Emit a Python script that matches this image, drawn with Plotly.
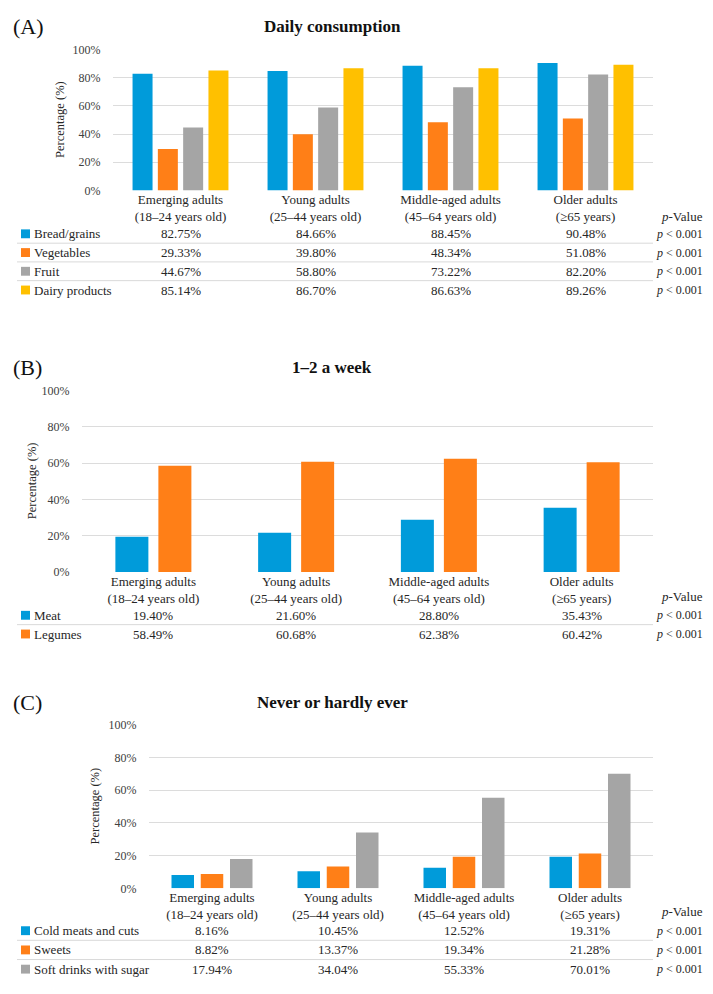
import plotly.graph_objects as go

# page is rendered with the default 8px body margin, so the figure is shrunk
# to avoid scrollbars and all layout numbers below are page pixels
PAGE_W, PAGE_H = 713, 994
OFF = 8
W, H = PAGE_W - 2 * OFF, PAGE_H - 2 * OFF

groups = ["Emerging adults<br>(18–24 years old)", "Young adults<br>(25–44 years old)",
          "Middle-aged adults<br>(45–64 years old)", "Older adults<br>(≥65 years)"]

# (A) Daily consumption
a_names = ["Bread/grains", "Vegetables", "Fruit", "Dairy products"]
bread = [82.75, 84.66, 88.45, 90.48]
vegetables = [29.33, 39.80, 48.34, 51.08]
fruit = [44.67, 58.80, 73.22, 82.20]
dairy = [85.14, 86.70, 86.63, 89.26]

# (B) 1-2 a week
b_names = ["Meat", "Legumes"]
meat = [19.40, 21.60, 28.80, 35.43]
legumes = [58.49, 60.68, 62.38, 60.42]

# (C) Never or hardly ever
c_names = ["Cold meats and cuts", "Sweets", "Soft drinks with sugar"]
cold_meats = [8.16, 10.45, 12.52, 19.31]
sweets = [8.82, 13.37, 19.34, 21.28]
soft_drinks = [17.94, 34.04, 55.33, 70.01]

p_text = "<i>p</i> &lt; 0.001"
yticks = [0, 20, 40, 60, 80, 100]
ytick_text = ["0%", "20%", "40%", "60%", "80%", "100%"]

BLUE = "#009BDA"
ORANGE = "#FF7F17"
GRAY = "#A5A5A5"
YELLOW = "#FFC000"
FONT = "Liberation Serif"


def px(x):
    return (x - OFF) / W


def py(y):
    return 1 - (y - OFF) / H


panels = [
    dict(tag="(A)", title="Daily consumption", names=a_names,
         series=[bread, vegetables, fruit, dairy], colors=[BLUE, ORANGE, GRAY, YELLOW],
         plot=(113, 653, 43, 186), head_y=20, ytitle_x=60, pval_y=212,
         rows=[230, 249, 268, 287], slot=25.3, bar=20),
    dict(tag="(B)", title="1–2 a week", names=b_names,
         series=[meat, legumes], colors=[BLUE, ORANGE],
         plot=(82, 653, 389, 573), head_y=366, ytitle_x=32, pval_y=598,
         rows=[617, 636], slot=43, bar=33),
    dict(tag="(C)", title="Never or hardly ever", names=c_names,
         series=[cold_meats, sweets, soft_drinks], colors=[BLUE, ORANGE, GRAY],
         plot=(149, 653, 728, 894), head_y=705, ytitle_x=95, pval_y=918,
         rows=[937, 956.5, 976], slot=29.25, bar=22.5),
]

fig = go.Figure()
annotations = []
shapes = []

for k, p in enumerate(panels, start=1):
    x0, x1, y0, y1 = p["plot"]
    cat_w = (x1 - x0) / len(groups)
    n = len(p["series"])
    s = p["slot"] / cat_w
    w = p["bar"] / cat_w
    xa = "x" if k == 1 else f"x{k}"
    ya = "y" if k == 1 else f"y{k}"
    for i, (name, vals, col) in enumerate(zip(p["names"], p["series"], p["colors"])):
        fig.add_trace(go.Bar(
            x=groups, y=vals, name=name, marker_color=col, marker_line_width=0,
            width=w, offset=-n * s / 2 + i * s + (s - w) / 2,
            xaxis=xa, yaxis=ya, showlegend=False))

    sfx = "" if k == 1 else str(k)
    fig.layout["xaxis" + sfx] = dict(
        domain=[px(x0), px(x1)], anchor=ya, showgrid=False, zeroline=False,
        showline=False, ticks="", tickfont=dict(family=FONT, size=13, color="#262626"),
        categoryorder="array", categoryarray=groups)
    fig.layout["yaxis" + sfx] = dict(
        domain=[py(y1), py(y0)], anchor=xa, range=[0, 100], tickmode="array",
        tickvals=yticks, ticktext=ytick_text, showgrid=True, gridcolor="#DCDCDC",
        gridwidth=1, zeroline=False, showline=False, ticks="outside", ticklen=9,
        tickcolor="rgba(0,0,0,0)", tickfont=dict(family=FONT, size=12, color="#404040"))

    # panel tag and title
    annotations.append(dict(text=p["tag"], x=px(11), y=py(p["head_y"]), xref="paper", yref="paper",
                            xanchor="left", yanchor="middle", showarrow=False,
                            font=dict(family=FONT, size=22, color="#111")))
    annotations.append(dict(text="<b>" + p["title"] + "</b>", x=px(332), y=py(p["head_y"]),
                            xref="paper", yref="paper", xanchor="center", yanchor="middle",
                            showarrow=False, font=dict(family=FONT, size=17, color="#111")))
    # y axis title
    annotations.append(dict(text="Percentage (%)", x=px(p["ytitle_x"]), y=py((y0 + y1) / 2),
                            xref="paper", yref="paper", textangle=-90, showarrow=False,
                            xanchor="center", yanchor="middle",
                            font=dict(family=FONT, size=12.5, color="#262626")))
    # p-value header
    annotations.append(dict(text="<i>p</i>-Value", x=px(682), y=py(p["pval_y"]),
                            xref="paper", yref="paper", xanchor="center", yanchor="middle",
                            showarrow=False, font=dict(family=FONT, size=13, color="#262626")))

    # data table
    for r, (name, vals, col, ry) in enumerate(zip(p["names"], p["series"], p["colors"], p["rows"])):
        shapes.append(dict(type="rect", xref="paper", yref="paper",
                           x0=px(21), x1=px(30), y0=py(ry + 4.5), y1=py(ry - 4.5),
                           fillcolor=col, line_width=0))
        annotations.append(dict(text=name, x=px(32), y=py(ry), xref="paper", yref="paper",
                                xanchor="left", yanchor="middle", showarrow=False,
                                font=dict(family=FONT, size=13, color="#262626")))
        for g, v in zip(groups, vals):
            annotations.append(dict(text=f"{v:.2f}%", x=g, xref=xa, y=py(ry), yref="paper",
                                    xanchor="center", yanchor="middle", showarrow=False,
                                    font=dict(family=FONT, size=13, color="#262626")))
        annotations.append(dict(text=p_text, x=px(704), y=py(ry), xref="paper", yref="paper",
                                xanchor="right", yanchor="middle", showarrow=False,
                                borderpad=0, font=dict(family=FONT, size=12, color="#262626")))
        if r < len(p["rows"]) - 1:
            sy = (ry + p["rows"][r + 1]) / 2
            shapes.append(dict(type="line", xref="paper", yref="paper",
                               x0=px(17), x1=px(653), y0=py(sy), y1=py(sy),
                               line=dict(color="#D9D9D9", width=1)))

fig.update_layout(
    width=W, height=H, margin=dict(l=0, r=0, t=0, b=0),
    plot_bgcolor="white", paper_bgcolor="white",
    barmode="overlay", annotations=annotations, shapes=shapes,
    font=dict(family=FONT))

fig.write_html("out.html")
